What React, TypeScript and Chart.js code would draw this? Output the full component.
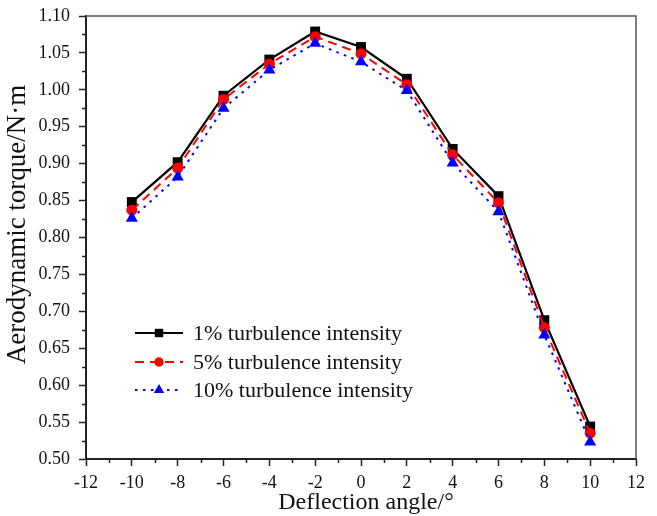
import React, { useEffect, useRef } from "react";
import { Chart, registerables } from "chart.js";

Chart.register(...registerables);

// ---- data ----
const angles = [-10, -8, -6, -4, -2, 0, 2, 4, 6, 8, 10];
const torque1 = [0.848, 0.902, 0.992, 1.041, 1.079, 1.058, 1.015, 0.92, 0.856, 0.688, 0.544];
const torque5 = [0.837, 0.894, 0.987, 1.035, 1.072, 1.049, 1.007, 0.912, 0.847, 0.678, 0.535];
const torque10 = [0.826, 0.882, 0.975, 1.027, 1.063, 1.038, 0.999, 0.901, 0.835, 0.668, 0.523];
const seriesLabels = ["1% turbulence intensity", "5% turbulence intensity", "10% turbulence intensity"];
const xTicks = [-12, -10, -8, -6, -4, -2, 0, 2, 4, 6, 8, 10, 12];
const xMinorTicks = [-11, -9, -7, -5, -3, -1, 1, 3, 5, 7, 9, 11];
const yTicks = [0.5, 0.55, 0.6, 0.65, 0.7, 0.75, 0.8, 0.85, 0.9, 0.95, 1.0, 1.05, 1.1];
const yMinorTicks = [0.525, 0.575, 0.625, 0.675, 0.725, 0.775, 0.825, 0.875, 0.925, 0.975, 1.025, 1.075];
const xTitle = "Deflection angle/°";
const yTitle = "Aerodynamic torque/N·m";

const FONT = "'Liberation Serif', 'Times New Roman', serif";

type SeriesStyle = { color: string; dash: number[]; point: string; radius: number; width: number };
const styles: SeriesStyle[] = [
  { color: "#000000", dash: [], point: "rect", radius: 7, width: 2.2 },
  { color: "#ff0000", dash: [9, 6], point: "circle", radius: 5.5, width: 2 },
  { color: "#0000ff", dash: [2.5, 5.5], point: "triangle", radius: 7, width: 2 },
];

function drawMarker(ctx: CanvasRenderingContext2D, kind: string, x: number, y: number, r: number, color: string) {
  ctx.save();
  ctx.fillStyle = color;
  ctx.setLineDash([]);
  ctx.beginPath();
  if (kind === "rect") {
    const s = r * Math.SQRT1_2;
    ctx.rect(x - s, y - s, 2 * s, 2 * s);
  } else if (kind === "circle") {
    ctx.arc(x, y, r, 0, Math.PI * 2);
  } else {
    const h = r * 1.5;
    const w = r * Math.sqrt(3);
    ctx.moveTo(x, y - h * 0.667);
    ctx.lineTo(x + w / 2, y + h * 0.333);
    ctx.lineTo(x - w / 2, y + h * 0.333);
    ctx.closePath();
  }
  ctx.fill();
  ctx.restore();
}

const decorPlugin = {
  id: "decor",
  afterDraw(chart: any) {
    const ctx: CanvasRenderingContext2D = chart.ctx;
    const { left, right, top, bottom } = chart.chartArea;
    const xs = chart.scales.x;
    const ys = chart.scales.y;
    ctx.save();
    // frame top/right
    ctx.strokeStyle = "#555";
    ctx.lineWidth = 1.5;
    ctx.beginPath();
    ctx.moveTo(left, top);
    ctx.lineTo(right, top);
    ctx.lineTo(right, bottom);
    ctx.stroke();
    // minor ticks
    ctx.strokeStyle = "#222";
    ctx.lineWidth = 1.5;
    ctx.beginPath();
    xMinorTicks.forEach((v) => {
      const px = Math.round(xs.getPixelForValue(v)) + 0.5;
      ctx.moveTo(px, bottom);
      ctx.lineTo(px, bottom + 4);
    });
    yMinorTicks.forEach((v) => {
      const py = Math.round(ys.getPixelForValue(v)) + 0.5;
      ctx.moveTo(left, py);
      ctx.lineTo(left - 4, py);
    });
    ctx.stroke();
    // axis titles
    ctx.fillStyle = "#111";
    ctx.textAlign = "center";
    ctx.textBaseline = "middle";
    ctx.font = `24px ${FONT}`;
    ctx.fillText(xTitle, (left + right) / 2 + 5, bottom + 44);
    ctx.save();
    ctx.translate(18, (top + bottom) / 2 - 13);
    ctx.rotate(-Math.PI / 2);
    ctx.font = `27px ${FONT}`;
    ctx.fillText(yTitle, 0, 0);
    ctx.restore();
    // legend
    const lx0 = left + 49;
    const lx1 = left + 97;
    const tx = left + 107;
    const rows = [top + 317, top + 346, top + 374];
    ctx.font = `22px ${FONT}`;
    ctx.textBaseline = "middle";
    ctx.textAlign = "left";
    styles.forEach((s, i) => {
      const y = rows[i];
      ctx.strokeStyle = s.color;
      ctx.lineWidth = 2;
      ctx.setLineDash(s.dash);
      ctx.beginPath();
      ctx.moveTo(lx0, y);
      ctx.lineTo(lx1, y);
      ctx.stroke();
      ctx.setLineDash([]);
      drawMarker(ctx, s.point, (lx0 + lx1) / 2, y, s.radius * 0.85, s.color);
      ctx.fillStyle = "#111";
      ctx.fillText(seriesLabels[i], tx, y + 1);
    });
    ctx.restore();
  },
};

export default function App() {
  const canvasRef = useRef<HTMLCanvasElement | null>(null);

  useEffect(() => {
    const canvas = canvasRef.current;
    if (!canvas) return;
    const seriesData = [torque1, torque5, torque10];
    const chart = new Chart(canvas, {
      type: "line",
      data: {
        datasets: seriesData.map((vals, i) => ({
          label: seriesLabels[i],
          data: angles.map((a, j) => ({ x: a, y: vals[j] })),
          borderColor: styles[i].color,
          backgroundColor: styles[i].color,
          borderWidth: styles[i].width,
          borderDash: styles[i].dash,
          pointStyle: styles[i].point as any,
          pointRadius: styles[i].radius,
          pointBorderWidth: 0,
          pointBackgroundColor: styles[i].color,
          tension: 0,
          fill: false,
          order: 3 - i,
        })),
      },
      options: {
        responsive: false,
        animation: false,
        devicePixelRatio: 1,
        layout: { padding: { top: 16, right: 21, left: 0, bottom: 0 } },
        plugins: { legend: { display: false }, tooltip: { enabled: false } },
        scales: {
          x: {
            type: "linear",
            min: -12,
            max: 12,
            afterBuildTicks: (s: any) => {
              s.ticks = xTicks.map((v) => ({ value: v }));
            },
            afterFit: (s: any) => {
              s.height = 57;
              s.paddingLeft = 0;
              s.paddingRight = 0;
            },
            grid: { drawOnChartArea: false, drawTicks: true, tickLength: 7, tickColor: "#222", tickWidth: 1.5 },
            border: { display: true, color: "#222", width: 2 },
            ticks: {
              color: "#111",
              font: { family: FONT, size: 18 },
              padding: 6,
              maxRotation: 0,
              autoSkip: false,
              callback: (v: any) => String(v),
            },
            title: { display: false },
          },
          y: {
            type: "linear",
            min: 0.5,
            max: 1.1,
            afterBuildTicks: (s: any) => {
              s.ticks = yTicks.map((v) => ({ value: v }));
            },
            afterFit: (s: any) => {
              s.width = 86;
              s.paddingTop = 0;
              s.paddingBottom = 0;
            },
            grid: { drawOnChartArea: false, drawTicks: true, tickLength: 7, tickColor: "#222", tickWidth: 1.5 },
            border: { display: true, color: "#222", width: 2 },
            ticks: {
              color: "#111",
              font: { family: FONT, size: 18 },
              padding: 9,
              autoSkip: false,
              callback: (v: any) => Number(v).toFixed(2),
            },
            title: { display: false },
          },
        },
      },
      plugins: [decorPlugin],
    });
    return () => chart.destroy();
  }, []);

  return (
    <div style={{ position: "absolute", left: 0, top: 0, width: 657, height: 516, background: "#fff" }}>
      <canvas ref={canvasRef} width={657} height={516} style={{ display: "block" }} />
    </div>
  );
}
